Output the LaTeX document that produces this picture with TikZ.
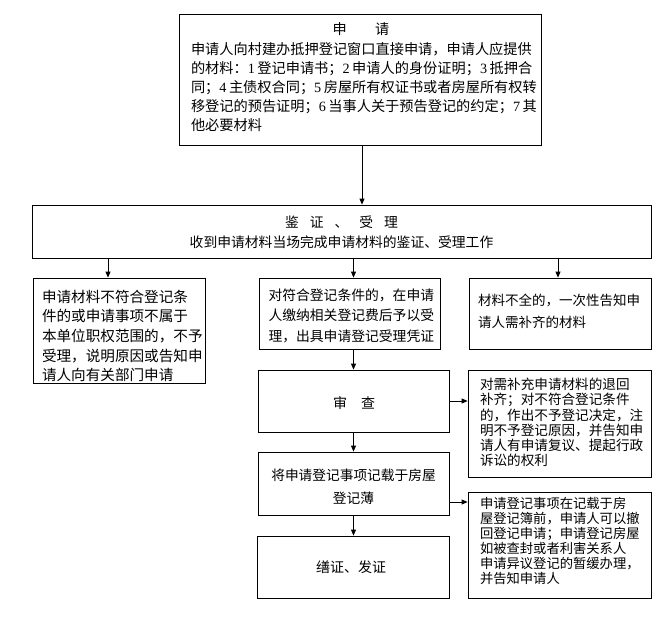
\documentclass[tikz,border=0pt]{standalone}
\usepackage{fontspec}
\setmainfont{Noto Sans CJK SC}
\newfontfamily\lat{Liberation Serif}
\newcommand{\dg}[1]{{\lat #1}\kern2.5pt\relax}
\usetikzlibrary{arrows.meta}
\tikzset{
  boxnode/.style={draw=black, line width=0.8pt, inner sep=0pt},
  txt/.style={inner sep=0pt, align=left},
  arr/.style={draw=black, line width=0.8pt, -{Triangle[length=6pt,width=5pt]}}
}
\begin{document}
\begin{tikzpicture}[x=1pt,y=-1pt]
\path[use as bounding box, fill=white] (0,0) rectangle (667,624);
% boxes
\node[boxnode, minimum width=362pt, minimum height=131pt] (A) at (360,79.5) {};
\node[boxnode, minimum width=619pt, minimum height=53pt] (B) at (341.5,231.5) {};
\node[boxnode, minimum width=172pt, minimum height=105pt] (C) at (119,330.5) {};
\node[boxnode, minimum width=181pt, minimum height=71pt] (D) at (349.5,313.5) {};
\node[boxnode, minimum width=182pt, minimum height=71pt] (E) at (560,313.5) {};
\node[boxnode, minimum width=191pt, minimum height=62pt] (F) at (353.5,401) {};
\node[boxnode, minimum width=183pt, minimum height=107pt] (G) at (559.5,423.5) {};
\node[boxnode, minimum width=191pt, minimum height=63pt] (H) at (353.5,483.5) {};
\node[boxnode, minimum width=183pt, minimum height=106pt] (I) at (559.5,545) {};
\node[boxnode, minimum width=192pt, minimum height=62pt] (J) at (353,567) {};
% texts
\node[txt, align=center, font=\fontsize{14.2}{19}\selectfont] (tA0) at (361,29) {申\hspace{2em}请};
\node[txt, text width=345pt, font=\fontsize{14.2}{19}\selectfont] (tA) at (363.5,87.5)
{申请人向村建办抵押登记窗口直接申请，申请人应提供\\
的材料：\dg{1}登记申请书；\dg{2}申请人的身份证明；\dg{3}抵押合\\
同；\dg{4}主债权合同；\dg{5}房屋所有权证书或者房屋所有权转\\
移登记的预告证明；\dg{6}当事人关于预告登记的约定；\dg{7}其\\
他必要材料};
\node[txt, align=center, font=\fontsize{13.8}{20}\selectfont] (tB) at (341.5,232)
{鉴\hspace{11pt}证\hspace{11pt}、\hspace{11pt}受\hspace{11pt}理\\
收到申请材料当场完成申请材料的鉴证、受理工作};
\node[txt, text width=154pt, font=\fontsize{14.6}{19.6}\selectfont] (tC) at (119,336)
{申请材料不符合登记条\\
件的或申请事项不属于\\
本单位职权范围的，不予\\
受理，说明原因或告知申\\
请人向有关部门申请};
\node[txt, text width=166pt, font=\fontsize{13.8}{20.5}\selectfont] (tD) at (351.5,315.5)
{对符合登记条件的，在申请\\
人缴纳相关登记费后予以受\\
理，出具申请登记受理凭证};
\node[txt, text width=164pt, font=\fontsize{13.5}{22}\selectfont] (tE) at (560,311)
{材料不全的，一次性告知申\\
请人需补齐的材料};
\node[txt, font=\fontsize{14}{16}\selectfont] (tF) at (354,403) {审\hspace{1em}查};
\node[txt, text width=159pt, font=\fontsize{13.6}{15.2}\selectfont] (tG) at (559.5,422.5)
{对需补充申请材料的退回\\
补齐；对不符合登记条件\\
的，作出不予登记决定，注\\
明不予登记原因，并告知申\\
请人有申请复议、提起行政\\
诉讼的权利};
\node[txt, align=center, font=\fontsize{13.7}{23}\selectfont] (tH) at (353.5,486.5)
{将申请登记事项记载于房屋\\
登记薄};
\node[txt, text width=159pt, font=\fontsize{13.3}{15}\selectfont] (tI) at (559.5,540.5)
{申请登记事项在记载于房\\
屋登记簿前，申请人可以撤\\
回登记申请；申请登记房屋\\
如被查封或者利害关系人\\
申请异议登记的暂缓办理，\\
并告知申请人};
\node[txt, font=\fontsize{14}{16}\selectfont] (tJ) at (351,567) {缮证、发证};
% connectors
\coordinate (bc) at ([xshift=-11pt]C.north);
\coordinate (h1) at ([yshift=-18.5pt]H.east);
\draw[arr] ([xshift=2pt]A.south) -- ([xshift=2pt]A.south |- B.north);
\draw[arr] (bc |- B.south) -- (bc);
\draw[arr] (F.north |- B.south) -- (F.north |- D.north);
\draw[arr] ([xshift=-2pt]E.north |- B.south) -- ([xshift=-2pt]E.north);
\draw[arr] (F.north |- D.south) -- (F.north);
\draw[arr] (F.south) -- (F.south |- H.north);
\draw[arr] (H.south) -- (H.south |- J.north);
\draw[arr] (F.east) -- (F.east -| G.west);
\draw[arr] (h1) -- (h1 -| I.west);
\end{tikzpicture}
\end{document}
